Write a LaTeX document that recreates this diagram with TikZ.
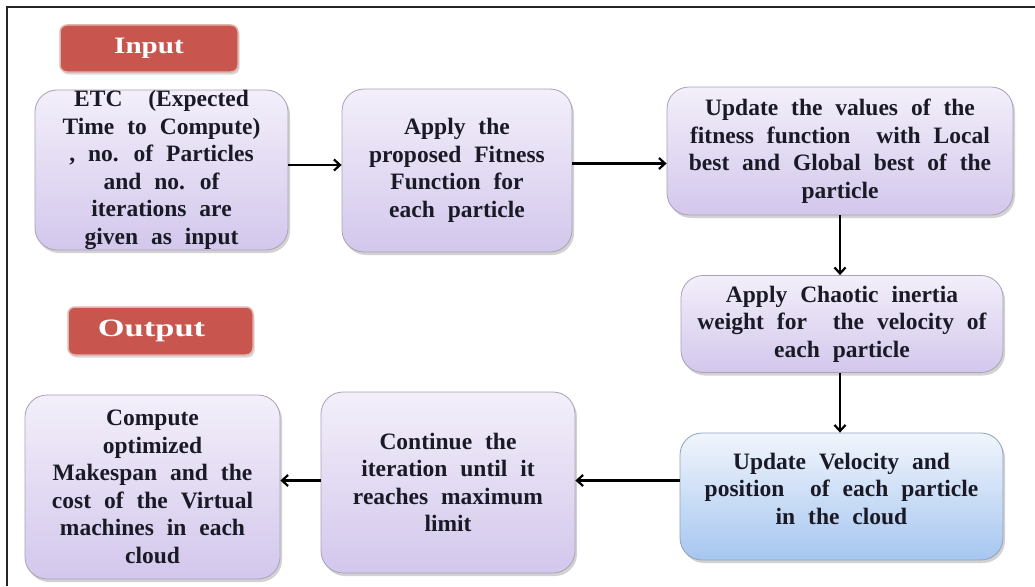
\documentclass[tikz,border=0pt]{standalone}
\usepackage{fontspec}
\setmainfont{Liberation Serif}[WordSpace=2.2]
\usetikzlibrary{arrows.meta,shadows,calc}

\definecolor{ink}{HTML}{1A1A26}
\definecolor{lavtop}{HTML}{F3EFFA}
\definecolor{lavbot}{HTML}{D3C7EC}
\definecolor{lavedge}{HTML}{A9A2B8}
\definecolor{bluetop}{HTML}{F1F5FC}
\definecolor{bluebot}{HTML}{A6C6F0}
\definecolor{blueedge}{HTML}{8FA3BF}
\definecolor{tagred}{HTML}{C8564F}
\definecolor{tagedge}{HTML}{E2B4AE}

\tikzset{
  every node/.style={align=center, text=ink},
  stepbox/.style={
    rounded corners=22pt, draw=lavedge, line width=0.8pt,
    top color=lavtop, bottom color=lavbot,
    drop shadow={opacity=0.35, shadow xshift=2pt, shadow yshift=-3pt},
    font=\fontsize{23.5}{27.5}\selectfont\bfseries,
    inner sep=0pt},
  bluebox/.style={stepbox, draw=blueedge, top color=bluetop, bottom color=bluebot},
  tag/.style={
    rounded corners=7pt, draw=tagedge, line width=1.5pt, fill=tagred,
    drop shadow={opacity=0.3, shadow xshift=1.5pt, shadow yshift=-2.5pt},
    text=white, font=\bfseries, inner sep=0pt},
  arr/.style={line width=2.6pt, draw=black, -{Straight Barb[length=6pt,width=11pt,line width=2.2pt]}},
}

\begin{document}
\begin{tikzpicture}[x=1pt, y=-1pt]
  \useasboundingbox[fill=white] (0,0) rectangle (1035,586);

  % page frame (top and left rules)
  \draw[line width=2pt, draw=black!85] (7,586) -- (7,7) -- (1035,7);

  % section tags
  \node[tag, minimum width=178pt, minimum height=47pt] (intag) at (149,48.5)
    {\fontsize{23.5}{26}\selectfont\scalebox{1.24}[1]{Input}};
  \node[tag, minimum width=185pt, minimum height=48pt] (outtag) at (160.5,331)
    {\fontsize{25}{27}\selectfont\hspace*{-18pt}\scalebox{1.38}[1]{Output}};

  % process steps
  \node[stepbox, minimum width=253pt, minimum height=160pt] (b1) at (161.5,170)
    {ETC \ (Expected\\Time to Compute)\\, no. of Particles\\and no. of\\iterations are\\given as input};
  \node[stepbox, minimum width=230pt, minimum height=163pt] (b2) at (457,170.5)
    {Apply the\\proposed Fitness\\Function for\\each particle};
  \node[stepbox, minimum width=346pt, minimum height=128pt] (b3) at (840,151)
    {Update the values of the\\fitness function \ with Local\\best and Global best of the\\particle};
  \node[stepbox, minimum width=322pt, minimum height=97pt] (b4) at (842,324)
    {Apply Chaotic inertia\\weight for \ the velocity of\\each particle};
  \node[bluebox, minimum width=323pt, minimum height=127pt] (b5) at (841.5,496.5)
    {Update Velocity and\\position \ of each particle\\in the cloud\\[-12pt]};
  \node[stepbox, minimum width=254pt, minimum height=181pt] (b6) at (448,482.5)
    {Continue the\\iteration until it\\reaches maximum\\limit};
  \node[stepbox, minimum width=255pt, minimum height=184pt] (b7) at (152.5,487)
    {Compute\\optimized\\Makespan and the\\cost of the Virtual\\machines in each\\cloud};

  % flow
  \draw[arr] ([yshift=5pt]b1.east) -- ([yshift=5pt]b1.east -| b2.west);
  \draw[arr] ([yshift=7pt]b2.east) -- ([yshift=7pt]b2.east -| b3.west);
  \draw[arr] (b3.south) -- (b3.south |- b4.north);
  \draw[arr] (b4.south -| b3.south) -- (b3.south |- b5.north);
  \draw[arr] ([yshift=16pt]b5.west) -- ([yshift=16pt]b5.west -| b6.east);
  \draw[arr] ([yshift=2pt]b6.west) -- ([yshift=2pt]b6.west -| b7.east);
\end{tikzpicture}
\end{document}
